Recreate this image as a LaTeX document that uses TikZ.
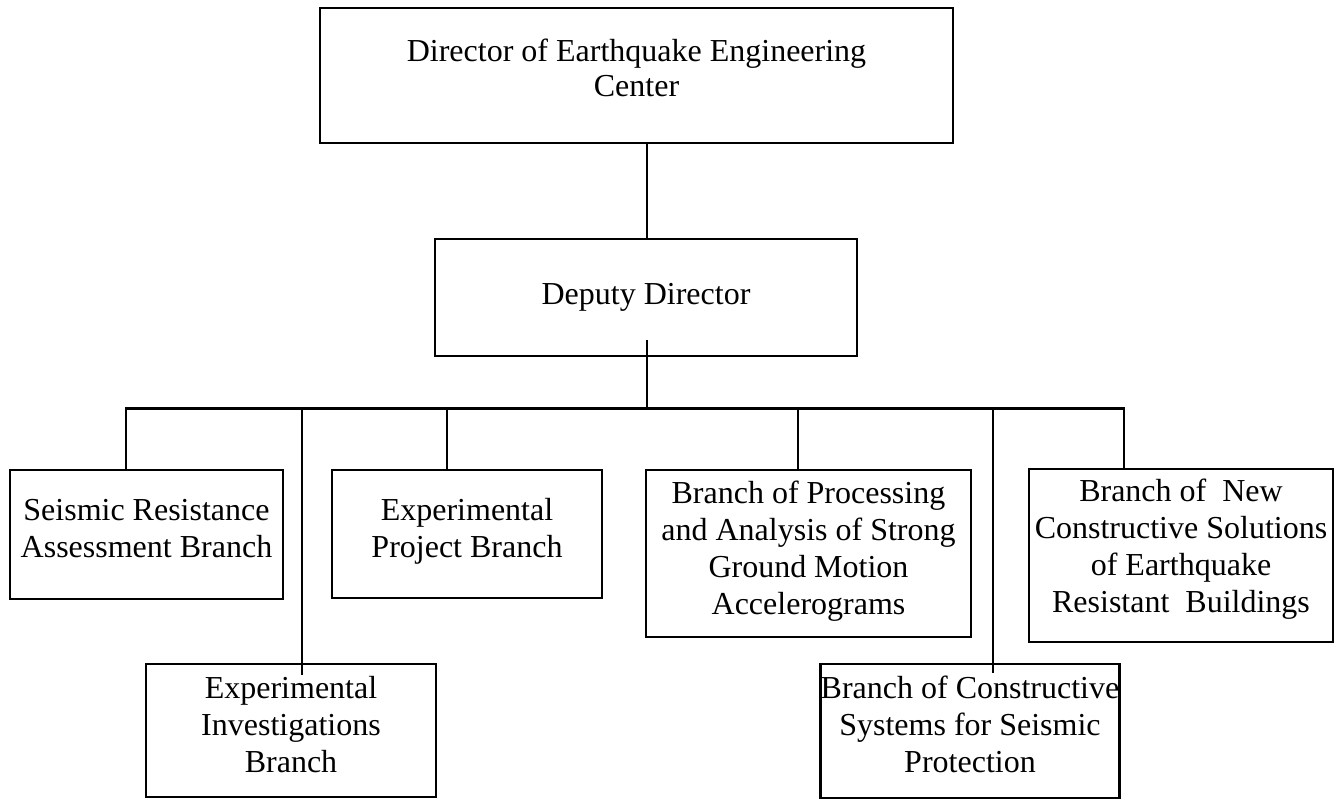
\documentclass[tikz,border=0pt]{standalone}
\usepackage{fontspec}
\setmainfont{Liberation Serif}
\begin{document}
\begin{tikzpicture}[x=1pt,y=-1pt,
  unit/.style={draw, line width=2.6pt, inner sep=0pt, outer sep=0pt,
    align=center, anchor=north, font=\fontsize{32}{37}\selectfont},
  link/.style={line width=2.3pt}]
\useasboundingbox (0,0) rectangle (1342,799);

% management
\node[unit, minimum width=633pt, text height=89pt, text depth=46pt,
  font=\fontsize{32}{35}\selectfont]
  (director) at (636.5,8) {Director of Earthquake Engineering\\Center};
\node[unit, minimum width=422pt, text height=66pt, text depth=51pt]
  (deputy) at (646,239) {Deputy Director};

% upper row of branches
\node[unit, minimum width=273pt, text height=87pt, text depth=42pt]
  (seismic) at (146.5,470) {Seismic Resistance\\Assessment Branch};
\node[unit, minimum width=270pt, text height=87pt, text depth=41pt]
  (project) at (467,470) {Experimental\\Project Branch};
\node[unit, minimum width=325pt, text height=144pt, text depth=23pt]
  (process) at (808.5,470) {Branch of Processing\\and Analysis of Strong\\Ground Motion\\Accelerograms};
\node[unit, minimum width=304pt, text height=143pt, text depth=30pt]
  (newsol) at (1181,469) {Branch of\ \ New\\Constructive Solutions\\of Earthquake\\Resistant\ \ Buildings};

% lower row of branches
\node[unit, minimum width=290pt, text height=108pt, text depth=25pt]
  (expinv) at (291,664) {Experimental\\Investigations\\Branch};
\node[unit, minimum width=296pt, text height=108pt, text depth=26pt]
  (constr) at (970,664) {Branch of Constructive\\Systems for Seismic\\Protection};

% junctions on the distribution bus
\coordinate (trunk) at (647,408.5);
\coordinate (busL) at (126,408.5);
\coordinate (busR) at (1124,408.5);
\coordinate (tapA) at (302,408.5);
\coordinate (tapB) at (447,408.5);
\coordinate (tapC) at (798,408.5);
\coordinate (tapD) at (993,408.5);

% connectors
\draw[link] (director.south -| trunk) -- (deputy.north -| trunk);
\draw[link] ([yshift=16pt]deputy.south -| trunk) -- (trunk);
\draw[link] (seismic.north -| busL) -- (busL) -- (busR) -- (newsol.north -| busR);
\draw[link] (tapA) -- ([yshift=-11pt]expinv.north -| tapA);
\draw[link] (tapB) -- (project.north -| tapB);
\draw[link] (tapC) -- (process.north -| tapC);
\draw[link] (tapD) -- ([yshift=-9pt]constr.north -| tapD);
\end{tikzpicture}
\end{document}
